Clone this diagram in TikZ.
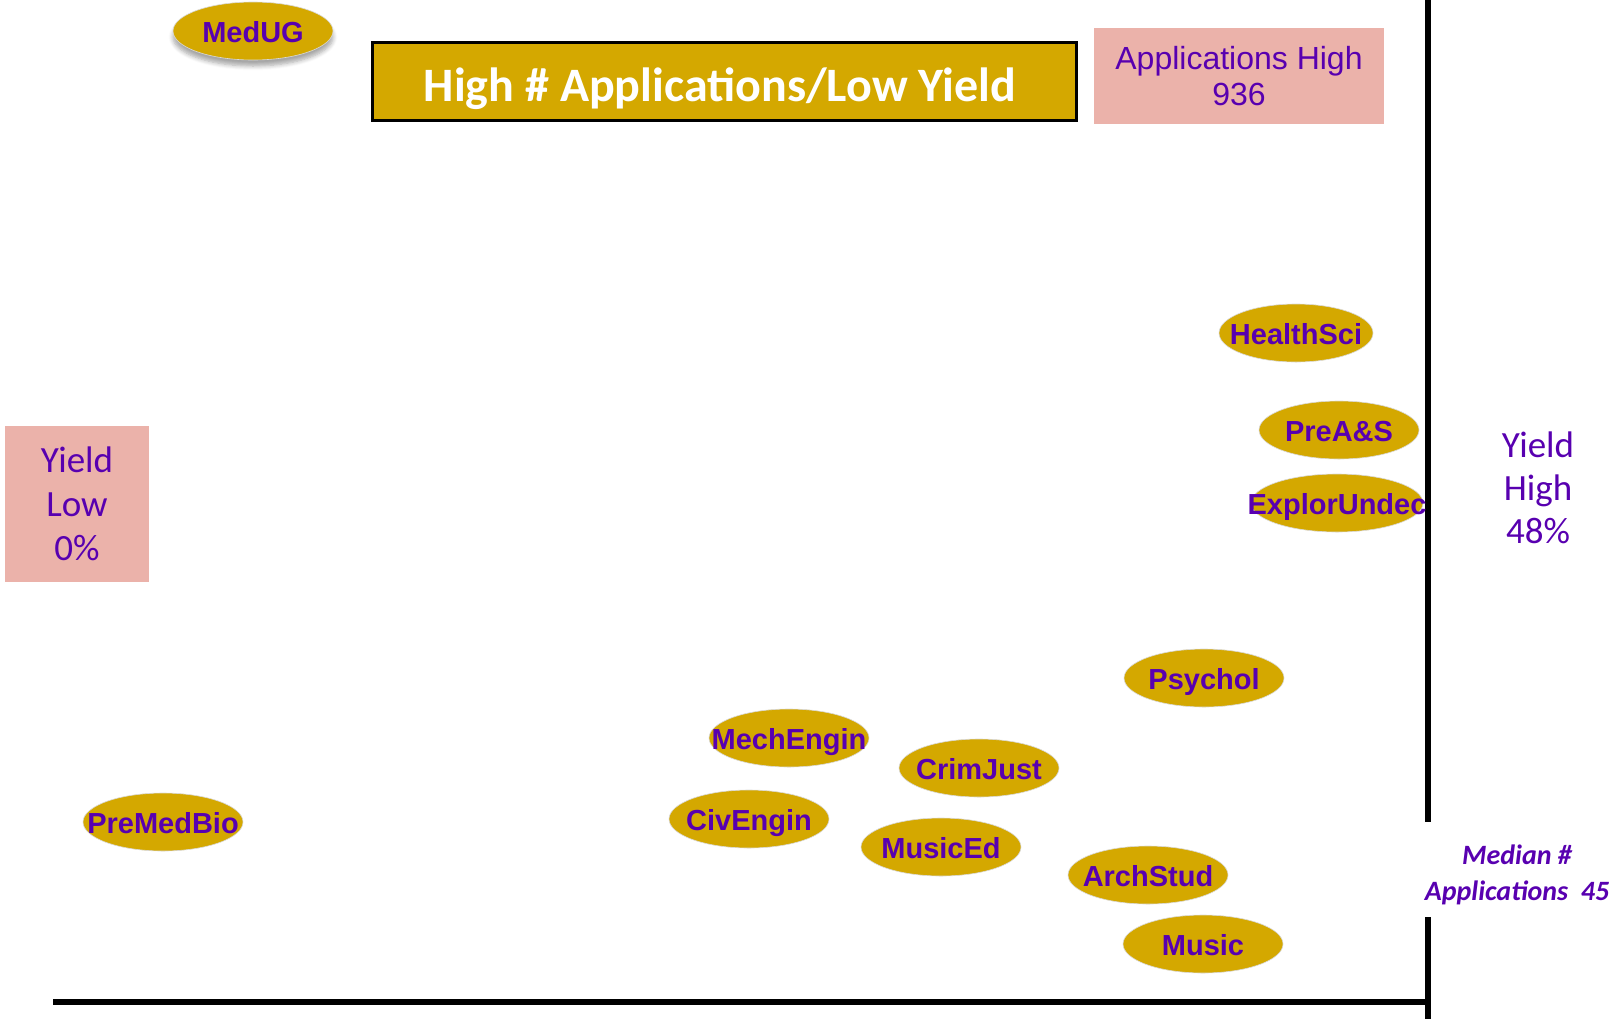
\documentclass[tikz,border=0pt]{standalone}
\usepackage{fontspec}
\setmainfont{Liberation Sans}
\newfontfamily\calib{Carlito}
\usetikzlibrary{shapes.geometric,shadows.blur}
\definecolor{gold}{RGB}{212,168,0}
\definecolor{purp}{RGB}{88,0,176}
\definecolor{pinkbox}{RGB}{235,178,170}
\newcommand{\zb}[1]{\makebox[0pt]{#1}}
\tikzset{
  major/.style={ellipse, fill=gold, draw=gray!30, line width=0.3pt, inner sep=0pt,
    minimum width=80pt, minimum height=29pt, text=purp,
    text height=12pt, text depth=0.1pt,
    font=\fontsize{14.5pt}{16pt}\selectfont\bfseries},
  pinkbox/.style={fill=pinkbox, inner sep=0pt, text=purp, align=center},
  axisline/.style={line width=3pt, black},
}
\begin{document}
\begin{tikzpicture}[x=0.5pt,y=-0.5pt]
\useasboundingbox (0,0) rectangle (1621,1019);
% axes
\coordinate (vtop) at (1428,0);
\coordinate (vgapA) at (1428,822);
\coordinate (vgapB) at (1428,917);
\coordinate (vbot) at (1428,1019);
\coordinate (hleft) at (53,1002);
\coordinate (hright) at (1431,1002);
\draw[axisline] (vtop) -- (vgapA);
\draw[axisline] (vgapB) -- (vbot);
\draw[axisline] (hleft) -- (hright);
% title
\node[draw=black, line width=1.5pt, fill=gold, minimum width=352pt, minimum height=39pt,
  inner sep=0pt] (title) at (724.5,81) {};
\node[anchor=base, inner sep=0pt, text=white,
  font=\calib\fontsize{24pt}{28pt}\selectfont\bfseries]
  (titletext) at (720,101) {High \# Applications/Low Yield};
% labels
\node[pinkbox, minimum width=145pt, minimum height=48pt,
  font=\fontsize{16pt}{18pt}\selectfont] (apphigh) at (1239,76)
  {Applications High\\936};
\node[pinkbox, minimum width=72pt, minimum height=78pt,
  font=\calib\fontsize{18.5pt}{22pt}\selectfont] (ylow) at (77,504)
  {Yield\\Low\\0\%};
\node[text=purp, align=center, inner sep=0pt,
  font=\calib\fontsize{18.5pt}{21.5pt}\selectfont] (yhigh) at (1538,488)
  {Yield\\High\\48\%};
\node[text=purp, align=center, inner sep=0pt,
  font=\calib\fontsize{14pt}{18pt}\selectfont\bfseries\itshape] (median) at (1517,875)
  {Median \#\\Applications\ \ 45};
% majors
\node[major, blur shadow={shadow xshift=0pt, shadow yshift=-3pt, shadow blur steps=6, shadow opacity=35}]
  (medug) at (253,31) {\zb{MedUG}};
\node[major, minimum width=77pt] (healthsci) at (1296,333) {\zb{HealthSci}};
\node[major] (preas) at (1339,430) {\zb{PreA\&S}};
\node[major, minimum width=86pt] (explor) at (1337,503) {\zb{ExplorUndec}};
\node[major] (psychol) at (1204,678) {\zb{Psychol}};
\node[major] (mechengin) at (789,738) {\zb{MechEngin}};
\node[major] (crimjust) at (979,768) {\zb{CrimJust}};
\node[major] (civengin) at (749,819) {\zb{CivEngin}};
\node[major] (musiced) at (941,847) {\zb{MusicEd}};
\node[major] (premedbio) at (163,822) {\zb{PreMedBio}};
\node[major] (archstud) at (1148,875) {\zb{ArchStud}};
\node[major] (music) at (1203,944) {\zb{Music}};
\end{tikzpicture}
\end{document}
